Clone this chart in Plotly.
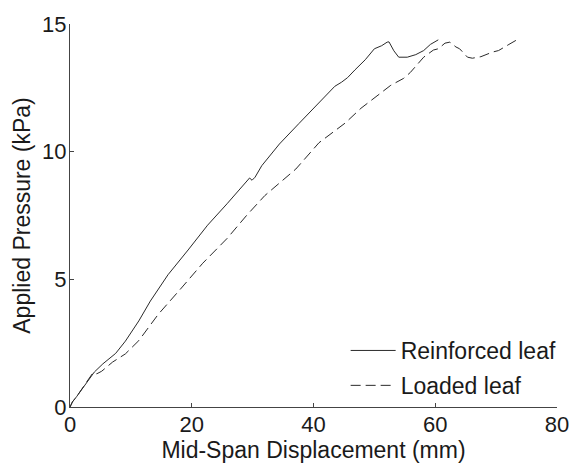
import plotly.graph_objects as go

# Load-displacement response of the two leaves
reinforced_x = [0, 0.4, 1.07, 2.4, 4.0, 5.4, 7.5, 9.1, 11.3, 13.2, 16.1, 19.4, 22.6,
                25.8, 28.8, 29.5, 29.9, 30.4, 31.5, 34.4, 37.6, 40.2, 42.7, 43.5,
                44.6, 45.6, 46.8, 48.5, 50.0, 51.2, 52.1, 52.4, 53.2, 54.0, 55.4,
                56.8, 58.1, 59.2, 60.5]
reinforced_y = [0, 0.2, 0.4, 0.85, 1.37, 1.69, 2.1, 2.58, 3.37, 4.15, 5.18, 6.15, 7.12,
                7.96, 8.8, 8.97, 8.88, 9.0, 9.45, 10.3, 11.1, 11.75, 12.4, 12.56,
                12.72, 12.9, 13.2, 13.6, 14.03, 14.15, 14.29, 14.3, 13.95, 13.7, 13.7,
                13.8, 13.96, 14.2, 14.38]

loaded_x = [0, 0.4, 1.07, 2.4, 3.8, 4.4, 5.2, 7.0, 9.1, 11.3, 14.5, 18.3, 21.8, 25.8,
            29.0, 32.0, 33.3, 37.1, 40.9, 45.2, 47.8, 51.1, 52.7, 54.8, 55.9, 58.1,
            59.7, 60.5, 61.6, 62.4, 63.4, 64.0, 65.3, 66.1, 67.5, 69.4, 70.4, 72.1,
            73.7]
loaded_y = [0, 0.2, 0.4, 0.85, 1.35, 1.3, 1.4, 1.76, 2.08, 2.6, 3.63, 4.66, 5.63, 6.6,
            7.5, 8.28, 8.54, 9.32, 10.35, 11.12, 11.7, 12.3, 12.6, 12.87, 13.1, 13.7,
            13.98, 14.03, 14.25, 14.29, 14.1, 14.03, 13.7, 13.66, 13.72, 13.9, 13.96,
            14.2, 14.42]

x_ticks = [0, 20, 40, 60, 80]
y_ticks = [0, 5, 10, 15]

FONT = "Liberation Sans, Arial, sans-serif"
INK = "#1a1a1a"
TICK_SIZE = 22
TEXT_SIZE = 23

fig = go.Figure()
fig.add_trace(go.Scatter(
    x=reinforced_x, y=reinforced_y, mode="lines", name="Reinforced leaf",
    legendgroup="a",
    line=dict(color="#2a2a2a", width=1),
))
fig.add_trace(go.Scatter(
    x=loaded_x, y=loaded_y, mode="lines", name="Loaded leaf",
    legendgroup="b",
    line=dict(color="#2a2a2a", width=1, dash="10px,5px"),
))

axis_common = dict(
    showgrid=False, zeroline=False, showline=True, linecolor="#444444",
    linewidth=1, ticks="inside", ticklen=4, tickcolor="#444444",
    ticklabelstandoff=-2,
    tickfont=dict(family=FONT, size=TICK_SIZE, color=INK),
    title_font=dict(family=FONT, size=TEXT_SIZE, color=INK),
)

fig.update_layout(
    width=581, height=466,
    margin=dict(l=70, r=15, t=20, b=59),
    paper_bgcolor="white", plot_bgcolor="white",
    font=dict(family=FONT, size=TEXT_SIZE, color=INK),
    xaxis=dict(range=[0, 80], tickvals=x_ticks,
               title=dict(text="Mid-Span Displacement (mm)", standoff=0),
               **axis_common),
    yaxis=dict(range=[0, 15], tickvals=y_ticks,
               title=dict(text="Applied Pressure (kPa)", standoff=5),
               **axis_common),
    legend=dict(x=0.566, y=0.0, xanchor="left", yanchor="bottom",
                bgcolor="rgba(0,0,0,0)", borderwidth=0,
                font=dict(family=FONT, size=TEXT_SIZE, color=INK),
                itemwidth=45, tracegroupgap=2, traceorder="grouped"),
    showlegend=True,
)

fig.write_html("out.html")
